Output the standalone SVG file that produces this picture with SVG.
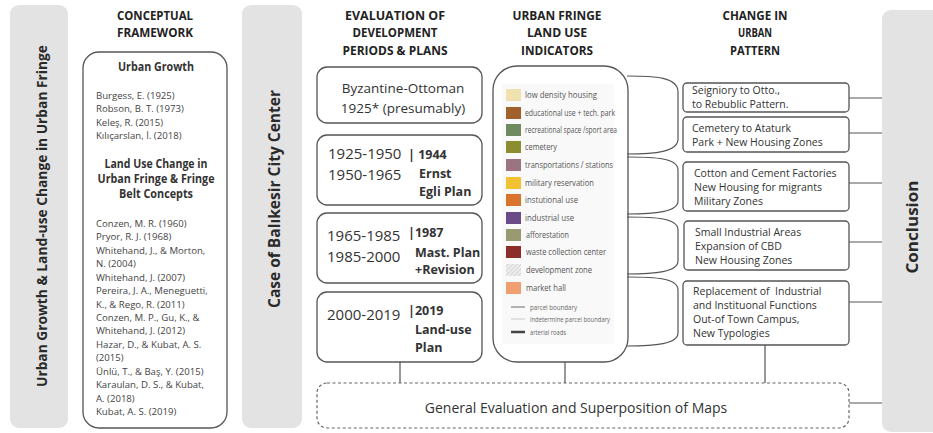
<svg xmlns="http://www.w3.org/2000/svg" width="933" height="433" viewBox="0 0 933 433">
<defs>
<style>
.bar{fill:#e3e3e3}
.box{fill:#fff;stroke:#555;stroke-width:1.3}
.dash{fill:#fff;stroke:#666;stroke-width:1.2;stroke-dasharray:3 2.5}
.ln{fill:none;stroke:#555;stroke-width:1.2}
text{font-family:"Open Sans","Liberation Sans",sans-serif}
.hdr{font-weight:bold;font-size:12.5px;fill:#222;text-anchor:middle}
.vt{font-weight:bold;font-size:16px;fill:#2a2a2a;text-anchor:middle}
.sub{font-weight:bold;font-size:11.5px;fill:#333;text-anchor:middle}
.ref{font-size:9.6px;fill:#444}
.per{font-size:15px;fill:#333}
.pl{font-size:12.5px;font-weight:bold;fill:#333}
.chg{font-size:10.5px;fill:#333}
.lg{font-size:8.5px;fill:#555}
.lg2{font-size:6.5px;fill:#666}
</style>
<pattern id="hatch" width="3" height="3" patternUnits="userSpaceOnUse" patternTransform="rotate(45)">
<rect width="3" height="3" fill="#eee"/>
<line x1="0" y1="0" x2="0" y2="3" stroke="#bbb" stroke-width="1"/>
</pattern>
</defs>

<g id="bar-urban-growth">
<rect class="bar" x="10" y="5" width="58" height="423" rx="9"/>
<text class="vt" style="font-size:14.5px" transform="translate(47,216) rotate(-90)" textLength="342" lengthAdjust="spacingAndGlyphs">Urban Growth &amp; Land-use Change in Urban Fringe</text>
</g>

<g id="bar-case">
<rect class="bar" x="242" y="5" width="60" height="423" rx="9"/>
<text class="vt" transform="translate(280,199) rotate(-90)" textLength="218" lengthAdjust="spacingAndGlyphs">Case of Balıkesir City Center</text>
</g>

<g id="bar-conclusion">
<rect class="bar" x="882" y="10" width="60" height="422" rx="9"/>
<text class="vt" transform="translate(918,227) rotate(-90)" textLength="93" lengthAdjust="spacingAndGlyphs">Conclusion</text>
</g>

<g id="headers">
<text class="hdr" x="155" y="20" textLength="76" lengthAdjust="spacingAndGlyphs">CONCEPTUAL</text>
<text class="hdr" x="155" y="37" textLength="76" lengthAdjust="spacingAndGlyphs">FRAMEWORK</text>
<text class="hdr" x="395" y="20" textLength="100" lengthAdjust="spacingAndGlyphs">EVALUATION OF</text>
<text class="hdr" x="395" y="37" textLength="85" lengthAdjust="spacingAndGlyphs">DEVELOPMENT</text>
<text class="hdr" x="395" y="55" textLength="105" lengthAdjust="spacingAndGlyphs">PERIODS &amp; PLANS</text>
<text class="hdr" x="557" y="20" textLength="89" lengthAdjust="spacingAndGlyphs">URBAN FRINGE</text>
<text class="hdr" x="557" y="37" textLength="60" lengthAdjust="spacingAndGlyphs">LAND USE</text>
<text class="hdr" x="557" y="55" textLength="72" lengthAdjust="spacingAndGlyphs">INDICATORS</text>
<text class="hdr" x="755" y="20" textLength="65" lengthAdjust="spacingAndGlyphs">CHANGE IN</text>
<text class="hdr" x="755" y="37" textLength="34" lengthAdjust="spacingAndGlyphs">URBAN</text>
<text class="hdr" x="755" y="55" textLength="50" lengthAdjust="spacingAndGlyphs">PATTERN</text>
</g>

<g id="conceptual-framework">
<rect class="box" x="83" y="52" width="144" height="376" rx="16"/>
<text class="sub" x="156" y="71" textLength="76" lengthAdjust="spacingAndGlyphs">Urban Growth</text>
<text class="ref" x="96" y="98.5">Burgess, E. (1925)</text>
<text class="ref" x="96" y="112">Robson, B. T. (1973)</text>
<text class="ref" x="96" y="125.5">Keleş, R. (2015)</text>
<text class="ref" x="96" y="139">Kılıçarslan, İ. (2018)</text>
<text class="sub" x="156" y="168" textLength="103" lengthAdjust="spacingAndGlyphs">Land Use Change in</text>
<text class="sub" x="156" y="183" textLength="117" lengthAdjust="spacingAndGlyphs">Urban Fringe &amp; Fringe</text>
<text class="sub" x="156" y="198" textLength="74" lengthAdjust="spacingAndGlyphs">Belt Concepts</text>
<text class="ref" x="96" y="227">Conzen, M. R. (1960)</text>
<text class="ref" x="96" y="240.4">Pryor, R. J. (1968)</text>
<text class="ref" x="96" y="253.9">Whitehand, J., &amp; Morton,</text>
<text class="ref" x="96" y="267.3">N. (2004)</text>
<text class="ref" x="96" y="280.7">Whitehand, J. (2007)</text>
<text class="ref" x="96" y="294.1">Pereira, J. A., Meneguetti,</text>
<text class="ref" x="96" y="307.6">K., &amp; Rego, R. (2011)</text>
<text class="ref" x="96" y="321">Conzen, M. P., Gu, K., &amp;</text>
<text class="ref" x="96" y="334.4">Whitehand, J. (2012)</text>
<text class="ref" x="96" y="347.9">Hazar, D., &amp; Kubat, A. S.</text>
<text class="ref" x="96" y="361.3">(2015)</text>
<text class="ref" x="96" y="374.7">Ünlü, T., &amp; Baş, Y. (2015)</text>
<text class="ref" x="96" y="388.1">Karaulan, D. S., &amp; Kubat,</text>
<text class="ref" x="96" y="401.6">A. (2018)</text>
<text class="ref" x="96" y="415">Kubat, A. S. (2019)</text>
</g>

<g id="period-1">
<rect class="box" x="317" y="67" width="165" height="56" rx="10"/>
<text class="per" x="403" y="93" text-anchor="middle" style="font-size:13.5px">Byzantine-Ottoman</text>
<text class="per" x="403" y="113" text-anchor="middle" style="font-size:13.5px">1925* (presumably)</text>
</g>

<g id="period-2">
<rect class="box" x="317" y="135" width="165" height="70" rx="10"/>
<text class="per" x="328" y="159">1925-1950</text>
<text class="per" x="328" y="180">1950-1965</text>
<text class="pl" x="408" y="159">| 1944</text>
<text class="pl" x="419" y="178">Ernst</text>
<text class="pl" x="419" y="196">Egli Plan</text>
</g>

<g id="period-3">
<rect class="box" x="317" y="213" width="165" height="70" rx="10"/>
<text class="per" x="327" y="241">1965-1985</text>
<text class="per" x="327" y="262">1985-2000</text>
<text class="pl" x="408" y="237">|1987</text>
<text class="pl" x="415" y="257">Mast. Plan</text>
<text class="pl" x="415" y="274">+Revision</text>
</g>

<g id="period-4">
<rect class="box" x="317" y="292" width="165" height="70" rx="10"/>
<text class="per" x="327" y="320">2000-2019</text>
<text class="pl" x="408" y="315">|2019</text>
<text class="pl" x="415" y="334">Land-use</text>
<text class="pl" x="415" y="352">Plan</text>
</g>

<g id="indicators">
<rect class="box" x="493" y="66" width="135" height="296" rx="24"/>
<rect x="502" y="84" width="112" height="260" fill="#f9f9f9"/>
<rect x="506" y="89" width="15" height="12" fill="#efe1b0"/>
<rect x="506" y="107" width="15" height="12" fill="#a0622a"/>
<rect x="506" y="124" width="15" height="12" fill="#6f8a5f"/>
<rect x="506" y="141" width="15" height="12" fill="#8c8c30"/>
<rect x="506" y="159" width="15" height="12" fill="#9a7480"/>
<rect x="506" y="177" width="15" height="12" fill="#f3c232"/>
<rect x="506" y="194" width="15" height="12" fill="#d8742e"/>
<rect x="506" y="212" width="15" height="12" fill="#6a4a88"/>
<rect x="506" y="229" width="15" height="12" fill="#9a9a72"/>
<rect x="506" y="246" width="15" height="12" fill="#8e2b2b"/>
<rect x="506" y="264" width="15" height="12" fill="url(#hatch)"/>
<rect x="506" y="282" width="15" height="12" fill="#f0a070"/>
<text class="lg" x="525" y="98" textLength="72" lengthAdjust="spacingAndGlyphs">low density housing</text>
<text class="lg" x="525" y="116" textLength="90" lengthAdjust="spacingAndGlyphs">educational use + tech. park</text>
<text class="lg" x="525" y="133" textLength="92" lengthAdjust="spacingAndGlyphs">recreational space /sport area</text>
<text class="lg" x="525" y="150" textLength="32" lengthAdjust="spacingAndGlyphs">cemetery</text>
<text class="lg" x="525" y="168" textLength="88" lengthAdjust="spacingAndGlyphs">transportations / stations</text>
<text class="lg" x="525" y="186" textLength="69" lengthAdjust="spacingAndGlyphs">military reservation</text>
<text class="lg" x="525" y="203" textLength="53" lengthAdjust="spacingAndGlyphs">instutional use</text>
<text class="lg" x="525" y="221" textLength="49" lengthAdjust="spacingAndGlyphs">industrial use</text>
<text class="lg" x="526" y="238" textLength="43" lengthAdjust="spacingAndGlyphs">afforestation</text>
<text class="lg" x="526" y="255" textLength="80" lengthAdjust="spacingAndGlyphs">waste collection center</text>
<text class="lg" x="526" y="273" textLength="66" lengthAdjust="spacingAndGlyphs">development zone</text>
<text class="lg" x="526" y="291" textLength="40" lengthAdjust="spacingAndGlyphs">market hall</text>
<line x1="511" y1="307" x2="525" y2="307" stroke="#aaa" stroke-width="1.8"/>
<line x1="511" y1="319" x2="525" y2="319" stroke="#ccc" stroke-width="1"/>
<line x1="511" y1="332" x2="525" y2="332" stroke="#444" stroke-width="2.5"/>
<text class="lg2" x="530" y="309.5" textLength="47" lengthAdjust="spacingAndGlyphs">parcel boundary</text>
<text class="lg2" x="530" y="321.5" textLength="80" lengthAdjust="spacingAndGlyphs">indetermine parcel boundary</text>
<text class="lg2" x="530" y="334.5" textLength="36" lengthAdjust="spacingAndGlyphs">arterial roads</text>
</g>

<g id="change-1">
<rect class="box" x="683" y="83" width="166" height="29" rx="4"/>
<text class="chg" x="692" y="94">Seigniory to Otto.,</text>
<text class="chg" x="692" y="108">to Rebublic Pattern.</text>
</g>
<g id="change-2">
<rect class="box" x="683" y="117" width="166" height="35" rx="4"/>
<text class="chg" x="692" y="132">Cemetery to Ataturk</text>
<text class="chg" x="692" y="146">Park + New Housing Zones</text>
</g>
<g id="change-3">
<rect class="box" x="683" y="162" width="166" height="49" rx="4"/>
<text class="chg" x="694" y="177">Cotton and Cement Factories</text>
<text class="chg" x="694" y="191">New Housing for migrants</text>
<text class="chg" x="694" y="205">Military Zones</text>
</g>
<g id="change-4">
<rect class="box" x="684" y="221" width="165" height="49" rx="4"/>
<text class="chg" x="695" y="236">Small Industrial Areas</text>
<text class="chg" x="695" y="250">Expansion of CBD</text>
<text class="chg" x="695" y="264">New Housing Zones</text>
</g>
<g id="change-5">
<rect class="box" x="683" y="281" width="166" height="64" rx="4"/>
<text class="chg" x="693" y="295" xml:space="preserve">Replacement of  Industrial</text>
<text class="chg" x="693" y="309">and Instituonal Functions</text>
<text class="chg" x="693" y="323">Out-of Town Campus,</text>
<text class="chg" x="693" y="337">New Typologies</text>
</g>

<g id="general-evaluation">
<rect class="dash" x="317" y="383" width="532" height="45" rx="10"/>
<text x="576" y="413" text-anchor="middle" style="font-size:14px;fill:#333">General Evaluation and Superposition of Maps</text>
</g>

<g id="connectors">
<path class="ln" d="M627,76 C655,76 678,77 678,92 L678,139 C678,152 655,154 627,154"/>
<path class="ln" d="M627,157 C655,157 678,158 678,170 L678,201 C678,212 655,214 627,214"/>
<path class="ln" d="M627,217 C655,217 678,218 678,230 L678,261 C678,272 655,274 627,274"/>
<path class="ln" d="M627,277 C655,277 678,278 678,290 L678,333 C678,344 655,346 627,346"/>
<line class="ln" x1="849" y1="98" x2="882" y2="98"/>
<line class="ln" x1="849" y1="133" x2="882" y2="133"/>
<line class="ln" x1="849" y1="183" x2="882" y2="183"/>
<line class="ln" x1="849" y1="242" x2="882" y2="242"/>
<line class="ln" x1="849" y1="302" x2="882" y2="302"/>
<line class="ln" x1="849" y1="403" x2="882" y2="403"/>
<line class="ln" x1="400" y1="362" x2="400" y2="383"/>
<line class="ln" x1="565" y1="362" x2="565" y2="383"/>
<line class="ln" x1="765" y1="345" x2="765" y2="383"/>
</g>
</svg>
